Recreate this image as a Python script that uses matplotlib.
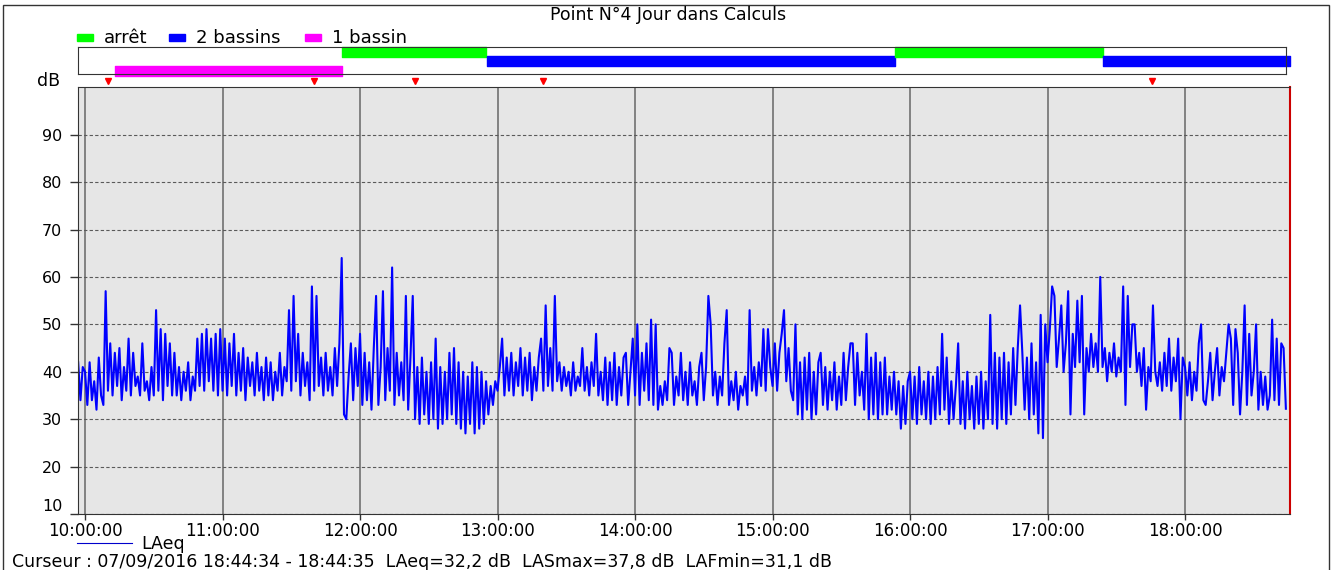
import numpy as np
import pandas as pd
import matplotlib
matplotlib.use("Agg")
import matplotlib.pyplot as plt
import matplotlib.dates as mdates
from matplotlib.patches import Rectangle
from matplotlib.lines import Line2D

W, H = 1333, 570
DAY = "2016-09-07"
START = "09:57"

# LAeq, one value per minute (dB)
laeq_0957 = [42, 34, 41]
laeq_10h = [
    40, 33, 42, 34, 38, 32, 43, 35, 33, 57,
    36, 46, 35, 44, 37, 45, 34, 41, 36, 47,
    35, 44, 37, 39, 35, 46, 36, 38, 34, 41,
    35, 53, 36, 49, 34, 48, 37, 46, 35, 44,
    35, 41, 34, 40, 36, 42, 34, 39, 36, 47,
    37, 48, 36, 49, 38, 47, 36, 48, 35, 49,
]
laeq_11h = [
    36, 47, 35, 46, 37, 48, 35, 44, 36, 45,
    34, 43, 37, 42, 35, 44, 36, 41, 34, 43,
    35, 42, 34, 40, 36, 44, 35, 41, 38, 53,
    36, 56, 38, 48, 35, 44, 37, 42, 34, 58,
    36, 56, 37, 43, 35, 44, 36, 41, 35, 45,
    37, 46, 64, 31, 30, 39, 46, 34, 45, 37,
]
laeq_12h = [
    48, 33, 44, 34, 42, 32, 45, 56, 33, 41,
    57, 34, 45, 36, 62, 33, 44, 35, 42, 34,
    56, 32, 43, 56, 30, 41, 29, 43, 31, 40,
    29, 42, 30, 47, 28, 41, 29, 40, 30, 44,
    31, 45, 29, 42, 28, 40, 27, 39, 29, 42,
    27, 41, 28, 40, 29, 38, 31, 37, 33, 38,
]
laeq_13h = [
    36, 41, 47, 35, 43, 36, 44, 35, 42, 37,
    45, 35, 43, 36, 44, 34, 41, 36, 43, 47,
    36, 54, 37, 45, 36, 56, 38, 42, 36, 41,
    37, 40, 35, 42, 36, 39, 37, 45, 36, 41,
    35, 42, 37, 48, 35, 40, 34, 43, 33, 42,
    34, 44, 33, 41, 35, 43, 44, 33, 40, 47,
]
laeq_14h = [
    35, 50, 33, 44, 36, 46, 34, 51, 33, 50,
    32, 37, 33, 38, 34, 45, 44, 33, 39, 35,
    44, 34, 40, 33, 42, 35, 38, 33, 41, 44,
    34, 41, 56, 50, 35, 40, 33, 39, 35, 46,
    53, 33, 38, 34, 40, 32, 37, 35, 39, 33,
    53, 36, 41, 35, 42, 37, 49, 36, 49, 41,
]
laeq_15h = [
    37, 46, 36, 44, 48, 53, 38, 45, 36, 34,
    50, 31, 42, 30, 43, 32, 44, 30, 40, 31,
    42, 44, 33, 41, 32, 40, 34, 42, 32, 39,
    33, 44, 34, 41, 46, 46, 33, 44, 35, 40,
    32, 48, 30, 43, 31, 44, 30, 42, 31, 43,
    31, 39, 32, 40, 31, 38, 28, 37, 29, 38,
]
laeq_16h = [
    40, 30, 39, 29, 41, 31, 38, 30, 40, 29,
    39, 30, 41, 31, 48, 32, 43, 29, 38, 30,
    37, 46, 29, 38, 28, 40, 30, 37, 28, 39,
    29, 40, 28, 38, 30, 52, 29, 44, 28, 43,
    30, 44, 29, 42, 31, 45, 33, 45, 54, 44,
    32, 43, 30, 46, 31, 42, 27, 52, 26, 50,
]
laeq_17h = [
    42, 49, 58, 56, 41, 47, 54, 40, 46, 57,
    31, 48, 41, 55, 42, 56, 31, 45, 40, 48,
    41, 46, 40, 60, 41, 45, 38, 44, 40, 46,
    39, 43, 40, 58, 33, 56, 41, 50, 50, 40,
    44, 37, 45, 32, 41, 38, 54, 40, 37, 42,
    36, 44, 37, 47, 36, 43, 38, 47, 30, 43,
]
laeq_18h = [
    41, 35, 42, 34, 40, 36, 46, 50, 34, 33,
    38, 44, 34, 40, 45, 35, 41, 38, 44, 50,
    47, 33, 49, 44, 31, 40, 54, 33, 48, 35,
    40, 50, 32, 40, 33, 39, 32, 35, 51, 34,
    47, 33, 46, 45, 32.2,
]

# operating periods of the basins (top band)
mode_names = ["arrêt", "2 bassins", "1 bassin"]
mode_colors = ["#00ff00", "#0000ff", "#ff00ff"]
period_mode = ["1 bassin", "arrêt", "2 bassins", "arrêt", "2 bassins"]
period_start = ["10:13", "11:52", "12:55:30", "15:53:30", "17:24"]
period_end = ["11:52", "12:55", "15:53:30", "17:24", "18:45:40"]

# event markers above the plot
event_times = ["10:10", "11:40", "12:24", "13:20", "17:45:40"]

cursor_text = ("Curseur : 07/09/2016 18:44:34 - 18:44:35  LAeq=32,2 dB  "
               "LASmax=37,8 dB  LAFmin=31,1 dB")


def t(hms):
    return pd.Timestamp(f"{DAY} {hms}")


def px(x, y):
    # pixel position (from top-left) -> figure fraction
    return x / W, 1 - y / H


laeq = (laeq_0957 + laeq_10h + laeq_11h + laeq_12h + laeq_13h
        + laeq_14h + laeq_15h + laeq_16h + laeq_17h + laeq_18h)
times = pd.date_range(t(START), periods=len(laeq), freq="min")

plt.rcParams["font.family"] = "DejaVu Sans"

fig = plt.figure(figsize=(W / 100, H / 100), dpi=100)

# main plot
ax = fig.add_axes([77.7 / W, 1 - 514 / H, (1290 - 77.7) / W, (514 - 87.3) / H])
ax.set_facecolor("#e6e6e6")
ax.plot(times, laeq, color="#0000ff", lw=1.5)

x_left, x_right = t("09:56:48"), t("18:45:48")
ax.set_xlim(x_left, x_right)
ax.set_ylim(10, 100)
ax.set_yticks(range(10, 100, 10))
ax.xaxis.set_major_locator(mdates.HourLocator())
ax.xaxis.set_major_formatter(mdates.DateFormatter("%H:%M:%S"))
ax.grid(axis="x", color="#7a7a7a", lw=1.3, ls="-")
ax.grid(axis="y", color="#5a5a5a", lw=0.8, ls=(0, (3, 2)))
ax.set_axisbelow(True)
ax.tick_params(axis="y", labelsize=11.5, length=6, color="#333333", width=1,
               pad=5)
ax.tick_params(axis="x", labelsize=12, length=4, color="#333333", width=1,
               pad=2)
for side in ["left", "top", "bottom"]:
    ax.spines[side].set_color("#333333")
ax.spines["right"].set_color("#cc0000")
ax.spines["right"].set_linewidth(1.5)
ax.get_yticklabels()[0].set_va("bottom")

# event markers
for et in event_times:
    ax.plot(t(et), 1.014, marker="v", color="#ff0000", ms=5,
            transform=ax.get_xaxis_transform(), clip_on=False)

# status band
band = fig.add_axes([77.7 / W, 1 - 74 / H, (1286 - 77.7) / W, (74 - 46.7) / H])
band.set_xlim(x_left, x_left + (x_right - x_left) * (1286 - 77.7) / (1290 - 77.7))
band.set_ylim(0, 27.3)
band.set_xticks([])
band.set_yticks([])
for sp in band.spines.values():
    sp.set_color("#333333")
row_y = {"arrêt": (17.3, 9.4), "2 bassins": (8.3, 9.7), "1 bassin": (-2, 10)}
for mode, s, e in zip(period_mode, period_start, period_end):
    c = mode_colors[mode_names.index(mode)]
    x0 = mdates.date2num(t(s))
    x1 = mdates.date2num(t(e))
    band.broken_barh([(x0, x1 - x0)], row_y[mode], color=c, clip_on=False)

# top legend
legend_x = [77, 169, 305]
for name, c, lx in zip(mode_names, mode_colors, legend_x):
    fig.add_artist(Rectangle(px(lx, 41), 16 / W, 7 / H, color=c,
                             transform=fig.transFigure))
    fig.text(*px(lx + 27, 38), name, fontsize=13, va="center", ha="left")

fig.text(*px(668, 15), "Point N°4 Jour dans Calculs", fontsize=12.5,
         ha="center", va="center")
fig.text(*px(49, 81), "dB", fontsize=12.5, ha="center", va="center")

# bottom legend and cursor line
fig.add_artist(Line2D([77 / W, 132 / W], [1 - 543 / H] * 2, color="#0000cc",
                      lw=0.8, transform=fig.transFigure))
fig.text(*px(141, 544), "LAeq", fontsize=12.5, va="center")
fig.text(*px(12, 562), cursor_text, fontsize=12.5, va="center")

# outer frame
fig.add_artist(Rectangle(px(3, 580), 1326 / W, 575 / H, fill=False,
                         edgecolor="#333333", lw=1, transform=fig.transFigure))

fig.savefig("out.png", dpi=100)
